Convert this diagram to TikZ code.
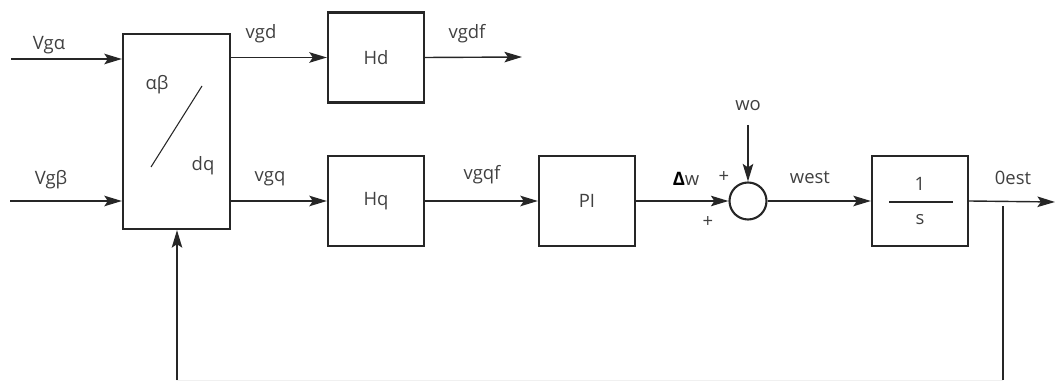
\documentclass[tikz,border=0pt]{standalone}
\usepackage{fontspec}
\setmainfont{Open Sans}
\usetikzlibrary{arrows.meta}

\tikzset{
  blk/.style={draw=black!85, line width=1.3pt, fill=white, inner sep=0pt,
    minimum width=1.92cm, minimum height=1.8cm, text=black!75,
    font=\fontsize{10.5}{12}\selectfont},
  sig/.style={-{Stealth[length=10pt,width=6pt,inset=2pt]}, line width=0.8pt, draw=black!85},
  wire/.style={line width=0.8pt, draw=black!85},
  lbl/.style={text=black!75, font=\fontsize{10.5}{12}\selectfont, inner sep=1pt},
}

\begin{document}
\begin{tikzpicture}[x=0.02cm, y=-0.02cm]
  \useasboundingbox (0,0) rectangle (1056,381);
  % abc -> dq transform block and the filter blocks
  \node[blk, minimum width=2.14cm, minimum height=3.9cm] (xf) at (176.5,131.5) {};
  \draw[line width=0.6pt, black!85] (151,167) -- (202,86);
  \node[lbl] (ab) at (157,85) {αβ};
  \node[lbl] (dq) at (203,166) {dq};
  \node[blk] (Hd) at (376,57.5) {Hd};
  \node[blk] (Hq) at (376,201) {Hq};
  \node[blk] (PI) at (587,201) {PI};
  \node[draw=black!85, circle, line width=1.2pt, minimum size=0.74cm, inner sep=0pt] (sum) at (748,201) {};
  \node[blk] (integ) at (920,201) {};
  \draw[line width=0.9pt, black!85] (889,202) -- (953,202);
  \node[lbl] (one) at (920,184) {1};
  \node[lbl] (ess) at (920,220) {s};

  % inputs and outputs
  \coordinate (inA) at (11,59);
  \coordinate (inB) at (10,201);
  \coordinate (outD) at (522,57);
  \coordinate (ref) at (748,125);
  \coordinate (outT) at (1055,202);
  \draw[sig] (inA) -- (inA -| xf.west);
  \draw[sig] (inB) -- (inB -| xf.west);
  \draw[sig] (xf.east |- Hd) -- (Hd.west);
  \draw[sig] (xf.east |- Hq) -- (Hq.west);
  \draw[sig] (Hd.east) -- (outD);
  \draw[sig] (Hq.east) -- (PI.west);
  \draw[sig] (PI.east) -- (sum.west);
  \draw[sig] (ref) -- (sum.north);
  \draw[sig] (sum.east) -- (integ.west);
  \draw[sig] (integ.east) -- (outT);

  % feedback of the estimated angle
  \coordinate (tap) at (1003,206);
  \coordinate (fbR) at (1003,380.5);
  \coordinate (fbL) at (177,380.5);
  \draw[wire] (tap) -- (fbR);
  \draw[line width=0.8pt, black!6] (fbR) -- (fbL);
  \draw[sig] (fbL) -- (fbL |- xf.south);

  % signal names
  \node[lbl] (lA) at (49,45) {Vgα};
  \node[lbl] (lB) at (51,180) {Vgβ};
  \node[lbl] (lvgd) at (261,34) {vgd};
  \node[lbl] (lvgq) at (270,179) {vgq};
  \node[lbl] (lvgdf) at (467,34) {vgdf};
  \node[lbl] (lvgqf) at (482,175) {vgqf};
  \node[lbl] (ldw) at (686,179) {\textbf{\color{black}Δ}w};
  \node[lbl] (lp1) at (724,177) {+};
  \node[lbl] (lp2) at (708,222) {+};
  \node[lbl] (lwo) at (748,106) {wo};
  \node[lbl] (lwest) at (810,178) {west};
  \node[lbl] (lest) at (1013,178) {0est};
\end{tikzpicture}
\end{document}
